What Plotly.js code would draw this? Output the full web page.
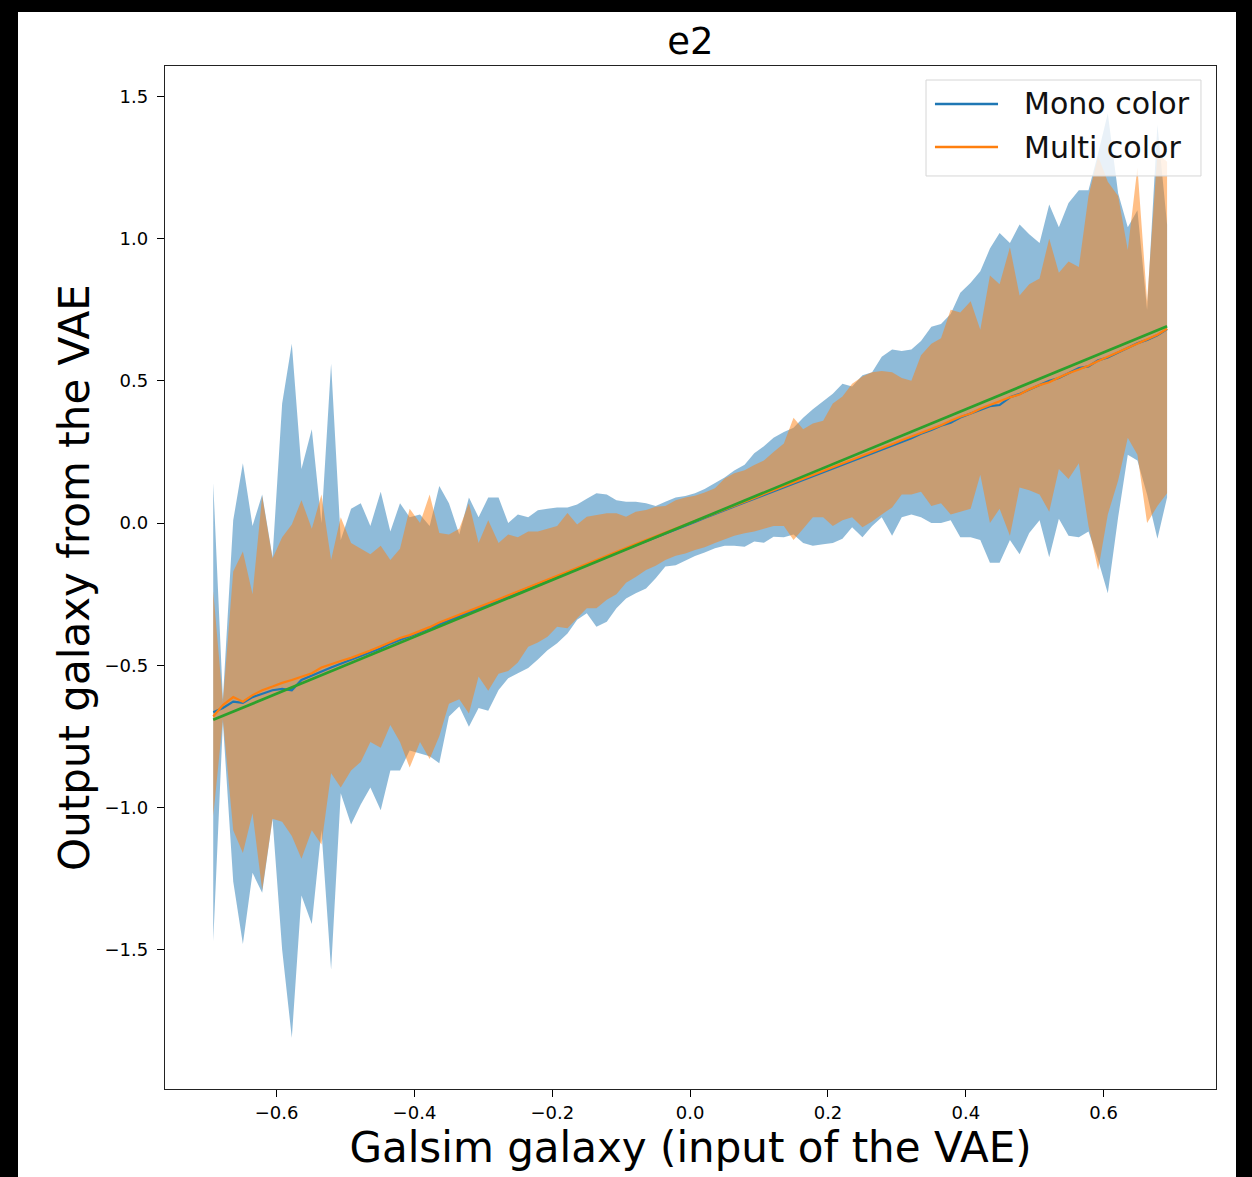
<!DOCTYPE html>
<html><head><meta charset="utf-8">
<script src="https://cdn.plot.ly/plotly-3.0.1.min.js"></script>
<style>
html,body{margin:0;padding:0;background:#000;width:1252px;height:1177px;overflow:hidden}
#bg{position:absolute;left:18px;top:12px;width:1218px;height:1165px;background:#fff}
#chart{position:absolute;left:0;top:0;width:1252px;height:1177px}
</style></head><body><div id="bg"></div><div id="chart"></div>
<script>
// Galsim e2 bins (x)
const xs = [-0.692,-0.678,-0.663,-0.649,-0.635,-0.621,-0.606,-0.592,-0.578,-0.564,
-0.549,-0.535,-0.521,-0.507,-0.492,-0.478,-0.464,-0.449,-0.435,-0.421,
-0.407,-0.392,-0.378,-0.364,-0.350,-0.335,-0.321,-0.307,-0.293,-0.278,
-0.264,-0.250,-0.235,-0.221,-0.207,-0.193,-0.178,-0.164,-0.150,-0.136,
-0.121,-0.107,-0.093,-0.079,-0.064,-0.050,-0.036,-0.021,-0.007,0.007,
0.021,0.036,0.050,0.064,0.079,0.093,0.107,0.121,0.136,0.150,
0.164,0.178,0.193,0.207,0.221,0.235,0.250,0.264,0.278,0.293,
0.307,0.321,0.335,0.350,0.364,0.378,0.392,0.407,0.421,0.435,
0.449,0.464,0.478,0.492,0.507,0.521,0.535,0.549,0.564,0.578,
0.592,0.606,0.621,0.635,0.649,0.663,0.678,0.692];

const monoUpper = [0.14,-0.62,0.01,0.21,-0.01,0.10,-0.12,0.42,0.63,0.19,
0.33,0.0,0.56,-0.06,0.05,0.07,-0.01,0.11,-0.03,0.07,
0.02,0.03,-0.01,0.13,0.07,-0.04,0.09,0.02,0.09,0.09,
0.0,0.03,0.02,0.045,0.05,0.055,0.055,0.065,0.085,0.105,
0.10,0.08,0.075,0.075,0.07,0.06,0.075,0.09,0.095,0.105,
0.12,0.14,0.16,0.185,0.205,0.245,0.27,0.30,0.32,0.335,
0.37,0.40,0.43,0.455,0.49,0.48,0.52,0.53,0.585,0.61,
0.605,0.61,0.64,0.69,0.70,0.735,0.81,0.845,0.885,0.965,
1.02,0.985,1.05,1.015,0.985,1.12,1.04,1.125,1.17,1.17,
1.30,1.44,1.16,1.04,1.10,0.75,1.40,1.05];

const monoLower = [-1.47,-0.70,-1.26,-1.48,-1.23,-1.30,-1.04,-1.50,-1.81,-1.31,
-1.41,-1.08,-1.57,-0.95,-1.06,-0.99,-0.93,-1.01,-0.87,-0.87,
-0.80,-0.81,-0.82,-0.845,-0.68,-0.645,-0.716,-0.65,-0.66,-0.587,
-0.546,-0.528,-0.51,-0.48,-0.447,-0.423,-0.388,-0.34,-0.317,-0.365,
-0.347,-0.30,-0.265,-0.247,-0.23,-0.194,-0.153,-0.148,-0.133,-0.116,
-0.104,-0.089,-0.08,-0.08,-0.083,-0.065,-0.069,-0.048,-0.05,-0.04,
-0.07,-0.08,-0.075,-0.07,-0.055,-0.015,-0.05,-0.01,0.02,-0.045,
0.02,0.03,0.02,0.0,0.0,0.01,-0.05,-0.05,-0.06,-0.14,
-0.14,-0.06,-0.11,-0.035,0.01,-0.12,0.015,-0.045,-0.05,-0.03,
-0.13,-0.247,0.02,0.24,0.22,0.10,-0.055,0.09];

const multiUpper = [-0.24,-0.63,-0.17,-0.10,-0.25,0.095,-0.125,-0.05,-0.005,0.08,
-0.02,0.10,-0.13,0.02,-0.07,-0.09,-0.11,-0.08,-0.13,-0.09,
0.05,0.0,0.10,-0.035,-0.04,-0.02,0.07,-0.07,0.01,-0.07,
-0.04,-0.05,-0.03,-0.03,-0.02,-0.01,0.035,-0.005,0.022,0.028,
0.034,0.034,0.022,0.04,0.046,0.057,0.06,0.08,0.09,0.096,
0.107,0.122,0.157,0.175,0.186,0.204,0.22,0.25,0.28,0.37,
0.33,0.35,0.36,0.42,0.445,0.49,0.515,0.53,0.535,0.53,
0.51,0.50,0.59,0.63,0.65,0.75,0.74,0.78,0.68,0.87,
0.84,0.97,0.80,0.84,0.86,1.00,0.88,0.92,0.90,1.15,
1.29,1.20,1.15,0.96,1.25,0.78,1.30,1.27];

const multiLower = [-1.03,-0.69,-1.08,-1.16,-1.02,-1.29,-1.04,-1.05,-1.10,-1.18,
-1.08,-1.13,-0.88,-0.93,-0.87,-0.84,-0.77,-0.79,-0.71,-0.77,
-0.86,-0.77,-0.83,-0.75,-0.635,-0.62,-0.67,-0.54,-0.59,-0.53,
-0.52,-0.49,-0.435,-0.42,-0.40,-0.365,-0.37,-0.335,-0.30,-0.30,
-0.27,-0.25,-0.21,-0.19,-0.165,-0.15,-0.13,-0.115,-0.107,-0.095,
-0.085,-0.07,-0.058,-0.045,-0.036,-0.03,-0.02,-0.01,-0.01,-0.06,
-0.02,0.02,0.02,-0.01,0.01,0.02,-0.015,0.005,0.03,0.055,
0.10,0.10,0.11,0.06,0.07,0.03,0.04,0.05,0.17,0.0,
0.05,-0.045,0.125,0.115,0.10,0.04,0.19,0.155,0.21,-0.01,
-0.165,0.03,0.15,0.30,0.24,0.0,0.06,0.105];

const monoMean = [-0.665,-0.650,-0.628,-0.632,-0.612,-0.600,-0.588,-0.583,-0.588,-0.552,
-0.536,-0.522,-0.508,-0.495,-0.481,-0.467,-0.452,-0.440,-0.424,-0.410,
-0.398,-0.384,-0.370,-0.356,-0.341,-0.327,-0.314,-0.300,-0.286,-0.272,
-0.258,-0.244,-0.230,-0.216,-0.203,-0.188,-0.174,-0.161,-0.147,-0.133,
-0.119,-0.105,-0.092,-0.078,-0.064,-0.051,-0.037,-0.023,-0.009,0.004,
0.018,0.031,0.045,0.058,0.072,0.085,0.099,0.112,0.126,0.139,
0.152,0.165,0.178,0.193,0.204,0.218,0.233,0.244,0.257,0.272,
0.286,0.298,0.314,0.327,0.342,0.353,0.371,0.385,0.397,0.411,
0.415,0.442,0.454,0.468,0.485,0.500,0.510,0.527,0.545,0.551,
0.572,0.582,0.600,0.616,0.632,0.644,0.660,0.682];

const multiMean = [-0.680,-0.640,-0.612,-0.628,-0.605,-0.588,-0.575,-0.562,-0.552,-0.540,
-0.528,-0.508,-0.496,-0.485,-0.474,-0.462,-0.448,-0.433,-0.419,-0.404,
-0.394,-0.380,-0.366,-0.350,-0.337,-0.323,-0.309,-0.296,-0.282,-0.268,
-0.254,-0.240,-0.226,-0.212,-0.199,-0.185,-0.171,-0.157,-0.143,-0.129,
-0.116,-0.102,-0.088,-0.074,-0.060,-0.047,-0.033,-0.019,-0.006,0.007,
0.021,0.034,0.048,0.061,0.075,0.088,0.102,0.115,0.129,0.143,
0.156,0.169,0.183,0.196,0.210,0.223,0.237,0.250,0.263,0.277,
0.291,0.304,0.318,0.331,0.344,0.360,0.374,0.385,0.402,0.415,
0.428,0.442,0.452,0.470,0.485,0.495,0.512,0.527,0.540,0.553,
0.570,0.585,0.601,0.616,0.633,0.648,0.662,0.683];

// identity reference line
const identityX = [-0.692, 0.692];
const identityY = [-0.692, 0.692];

const xTicks = [-0.6,-0.4,-0.2,0.0,0.2,0.4,0.6];
const yTicks = [-1.5,-1.0,-0.5,0.0,0.5,1.0,1.5];
const seriesNames = ['Mono color','Multi color'];

const C0='#1f77b4', C1='#ff7f0e', C2='#2ca02c';
const FONT='DejaVu Sans, sans-serif';

const traces = [
  {x:xs, y:monoLower, mode:'lines', line:{width:0,color:C0}, showlegend:false, hoverinfo:'skip'},
  {x:xs, y:monoUpper, mode:'lines', line:{width:0,color:C0}, fill:'tonexty', fillcolor:'rgba(31,119,180,0.5)', showlegend:false, hoverinfo:'skip'},
  {x:xs, y:multiLower, mode:'lines', line:{width:0,color:C1}, showlegend:false, hoverinfo:'skip'},
  {x:xs, y:multiUpper, mode:'lines', line:{width:0,color:C1}, fill:'tonexty', fillcolor:'rgba(255,127,14,0.5)', showlegend:false, hoverinfo:'skip'},
  {x:xs, y:monoMean, mode:'lines', name:seriesNames[0], line:{width:2.2,color:C0}, showlegend:false},
  {x:xs, y:multiMean, mode:'lines', name:seriesNames[1], line:{width:2.2,color:C1}, showlegend:false},
  {x:identityX, y:identityY, mode:'lines', line:{width:2.7,color:C2}, showlegend:false}
];

// legend box geometry (paper coords)
const lg = {x0:0.7241, x1:0.9857, y0:0.8925, y1:0.9863, lx0:0.7326, lx1:0.7926, tx:0.8154, ya:0.9629, yb:0.9208};

const layout = {
  width:1252, height:1177,
  margin:{l:165, r:36, t:66, b:88, pad:0},
  paper_bgcolor:'rgba(0,0,0,0)', plot_bgcolor:'#fff',
  font:{family:FONT, color:'#000'},
  title:{text:'e2', font:{size:37, family:FONT, color:'#000'}, x:0.5, xref:'paper', xanchor:'center', y:1-41/1177, yref:'container', yanchor:'middle'},
  xaxis:{range:[-0.762,0.763], tickvals:xTicks, tickformat:'.1f', ticks:'outside', ticklen:7, tickwidth:1, tickcolor:'#000',
    showline:true, mirror:true, linecolor:'#222', linewidth:1.2, showgrid:false, zeroline:false,
    tickfont:{size:18, family:FONT, color:'#000'},
    title:{text:'Galsim galaxy (input of the VAE)', font:{size:42, family:FONT, color:'#000'}, standoff:1}},
  yaxis:{range:[-1.99,1.607], tickvals:yTicks, tickformat:'.1f', ticks:'outside', ticklen:7, tickwidth:1, tickcolor:'#000',
    ticklabelstandoff:5,
    showline:true, mirror:true, linecolor:'#222', linewidth:1.2, showgrid:false, zeroline:false,
    tickfont:{size:18, family:FONT, color:'#000'},
    title:{text:'Output galaxy from the VAE', font:{size:42, family:FONT, color:'#000'}, standoff:1}},
  showlegend:false,
  shapes:[
    {type:'rect', xref:'paper', yref:'paper', x0:lg.x0, x1:lg.x1, y0:lg.y0, y1:lg.y1, fillcolor:'rgba(255,255,255,0.8)', line:{color:'#d6d6d6', width:1}, layer:'above'},
    {type:'line', xref:'paper', yref:'paper', x0:lg.lx0, x1:lg.lx1, y0:lg.ya, y1:lg.ya, line:{color:C0, width:2.5}, layer:'above'},
    {type:'line', xref:'paper', yref:'paper', x0:lg.lx0, x1:lg.lx1, y0:lg.yb, y1:lg.yb, line:{color:C1, width:2.5}, layer:'above'}
  ],
  annotations:[
    {xref:'paper', yref:'paper', x:lg.tx, y:lg.ya, text:seriesNames[0], showarrow:false, xanchor:'left', yanchor:'middle', font:{size:30, family:FONT, color:'#111'}},
    {xref:'paper', yref:'paper', x:lg.tx, y:lg.yb, text:seriesNames[1], showarrow:false, xanchor:'left', yanchor:'middle', font:{size:30, family:FONT, color:'#111'}}
  ]
};

Plotly.newPlot('chart', traces, layout, {staticPlot:true, displayModeBar:false});
</script></body></html>
